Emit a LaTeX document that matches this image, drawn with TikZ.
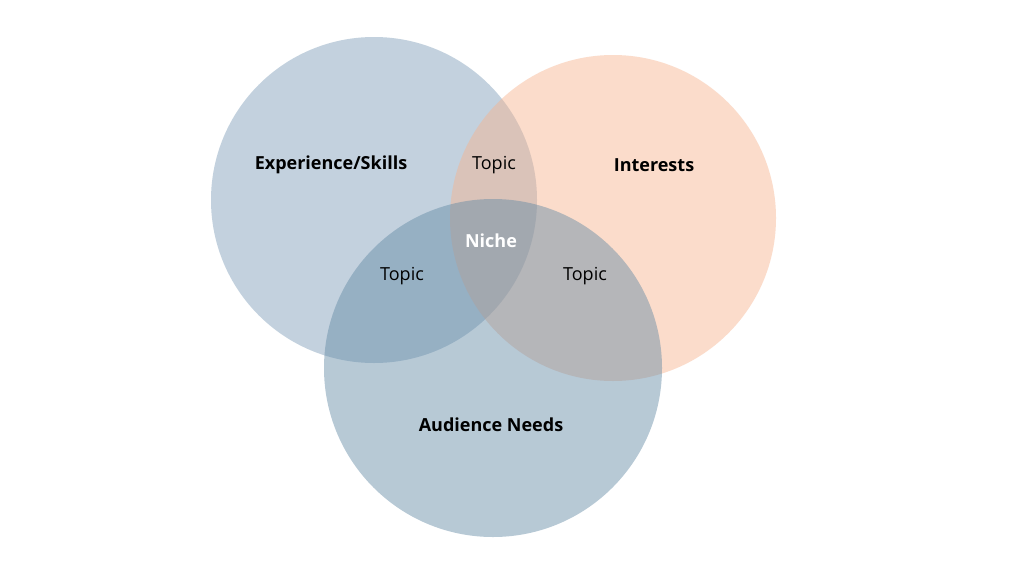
\documentclass[tikz,border=0pt]{standalone}
\usepackage{fontspec}
\setmainfont{Open Sans}
\definecolor{skillblue}{RGB}{122,153,182}
\definecolor{needblue}{RGB}{96,136,164}
\definecolor{interestpeach}{RGB}{247,178,140}
\tikzset{
        venn/.style={opacity=0.45}, % sets properties for each circle
        heading/.style={font=\fontsize{18}{20}\selectfont\bfseries}, % circle titles
        topic/.style={font=\fontsize{18}{20}\selectfont}, % overlap labels
    }
\begin{document}
\begin{tikzpicture}[x=1pt,y=-1pt]
    \useasboundingbox[fill=white] (0,0) rectangle (1024,576);
    \fill[venn, skillblue] (374,200) circle (163);
    \fill[venn, interestpeach] (613,218) circle (163);
    \fill[venn, needblue] (493,368) circle (169);
    \node[heading] (skills) at (331,165) {Experience/Skills};
    \node[heading] (interests) at (654,165) {Interests};
    \node[heading] (needs) at (491,425) {Audience Needs};
    \node[heading, white] (niche) at (491,241) {Niche};
    \node[topic] (topictop) at (494,165) {Topic};
    \node[topic] (topicleft) at (402,276) {Topic};
    \node[topic] (topicright) at (585,276) {Topic};
\end{tikzpicture}
\end{document}
